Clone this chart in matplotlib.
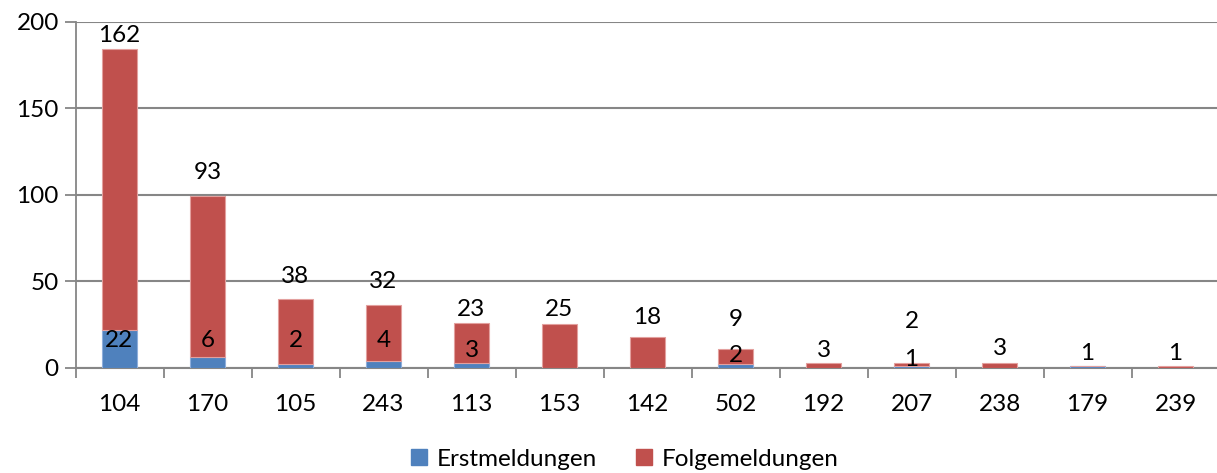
import numpy as np
import matplotlib
matplotlib.use("Agg")
import matplotlib.pyplot as plt
from matplotlib.patches import Patch

plt.rcParams['font.family'] = ['Lato', 'DejaVu Sans']

# Daten
kategorien = ['104', '170', '105', '243', '113', '153', '142', '502', '192', '207', '238', '179', '239']
erstmeldungen = [22, 6, 2, 4, 3, 0, 0, 2, 0, 1, 0, 1, 0]
folgemeldungen = [162, 93, 38, 32, 23, 25, 18, 9, 3, 2, 3, 0, 1]

# Lage der Beschriftungen (wie im Original, in Achseneinheiten)
erst_label_y = [15.6, 15.6, 15.6, 15.6, 10.2, None, None, 7.3, None, 4.5, None, 8.3, None]
folge_label_y = [192, 112.7, 52.6, 49.7, 33.4, 33.8, 29.1, 28, 9.8, 26.6, 11.2, None, 8]

blau = '#4F81BD'
rot = '#C0504D'
grau = '#868686'
fs = 17.5

fig = plt.figure(figsize=(12.17, 4.73), dpi=100)
ax = fig.add_axes([75.5 / 1217, 1 - 367.7 / 473, (1219.5 - 75.5) / 1217, (367.7 - 21.7) / 473])

x = np.arange(len(kategorien))
ax.bar(x, erstmeldungen, width=0.4, color=blau, edgecolor='#8EAEDB', linewidth=0.8, zorder=3)
ax.bar(x, folgemeldungen, width=0.4, bottom=erstmeldungen, color=rot, edgecolor='#E3A09E',
       linewidth=0.8, zorder=3)

# Datenbeschriftungen
for i in range(len(kategorien)):
    if erst_label_y[i] is not None:
        ax.text(x[i], erst_label_y[i], str(erstmeldungen[i]), ha='center', va='center', fontsize=fs, zorder=5)
    if folge_label_y[i] is not None:
        ax.text(x[i], folge_label_y[i], str(folgemeldungen[i]), ha='center', va='center', fontsize=fs, zorder=5)

ax.set_xlim(-0.5, len(kategorien) - 0.5)
ax.set_ylim(0, 200)
ax.set_yticks([0, 50, 100, 150, 200])
ax.set_xticks(x)
ax.set_xticklabels(kategorien)
ax.set_xticks(np.arange(-0.5, len(kategorien), 1), minor=True)
ax.tick_params(axis='x', which='major', length=0, pad=19, labelsize=fs)
ax.tick_params(axis='x', which='minor', length=7, width=1.3, color=grau, direction='out')
ax.tick_params(axis='y', length=8, width=1.3, color=grau, labelsize=fs, pad=4)

ax.grid(axis='y', color=grau, linewidth=1.5, zorder=0)
for s in ['top', 'right']:
    ax.spines[s].set_visible(False)
ax.spines['left'].set_color(grau)
ax.spines['left'].set_linewidth(1.3)
ax.spines['bottom'].set_color(grau)
ax.spines['bottom'].set_linewidth(1.5)

handles = [Patch(color=blau, label='Erstmeldungen'), Patch(color=rot, label='Folgemeldungen')]
fig.legend(handles=handles, loc='center', bbox_to_anchor=(625 / 1217, 1 - 459 / 473), ncol=2,
           frameon=False, fontsize=fs, handlelength=0.65, handleheight=0.65, handletextpad=0.4,
           columnspacing=1.6)

fig.savefig('out.png', dpi=100)
